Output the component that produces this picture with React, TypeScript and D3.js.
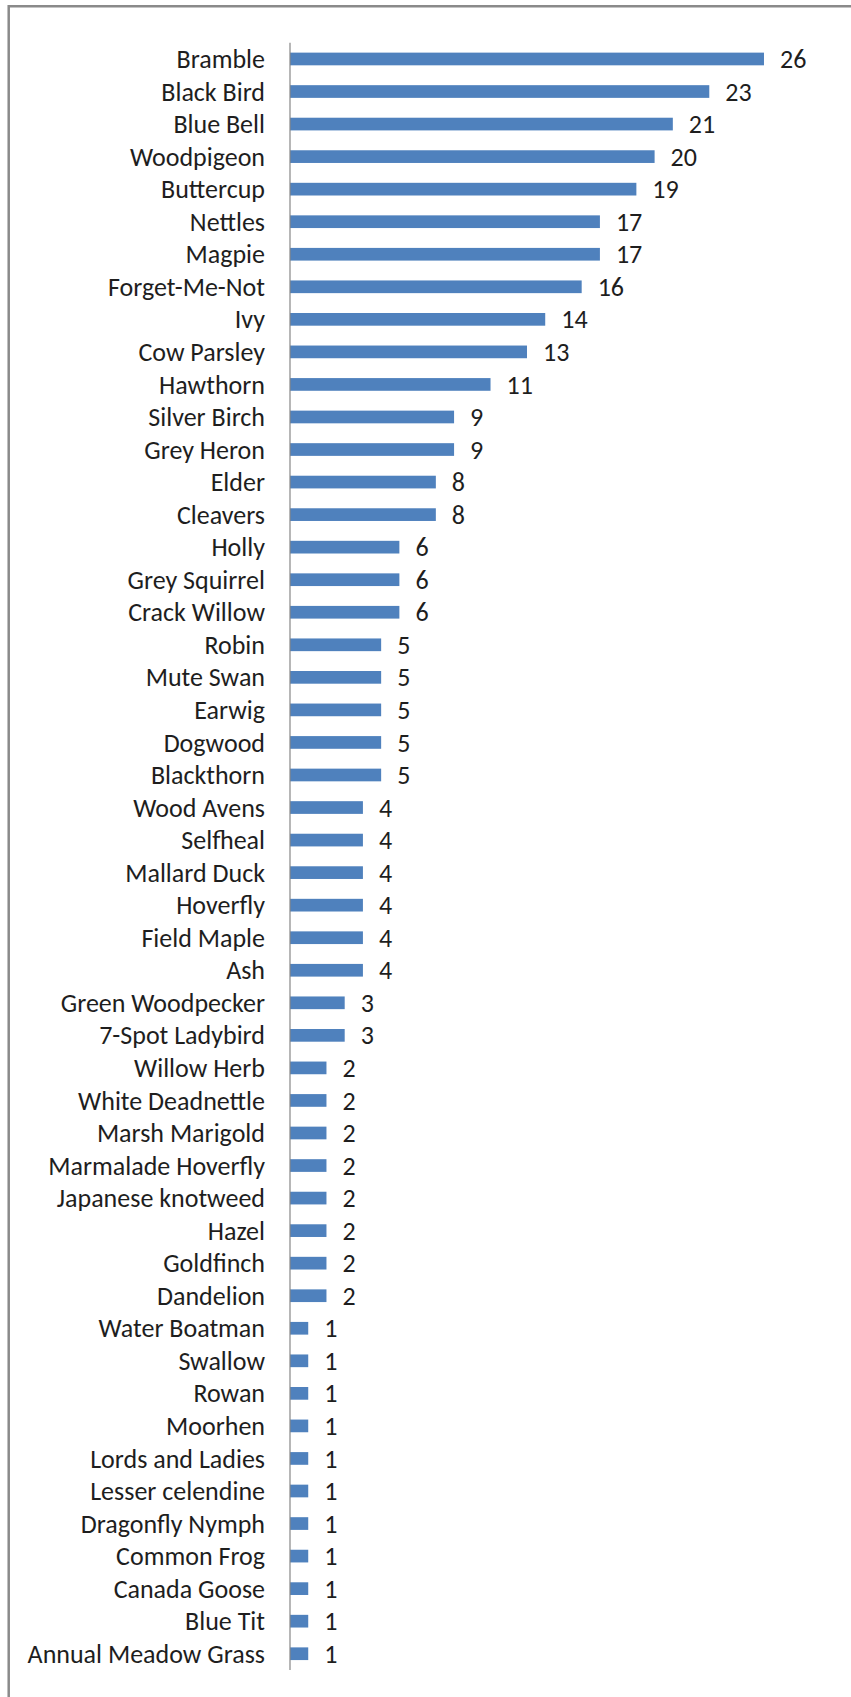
import React from 'react';
import * as d3 from 'd3';

// Species recorded, in chart order (top to bottom)
const species: string[] = [
  'Bramble', 'Black Bird', 'Blue Bell', 'Woodpigeon', 'Buttercup', 'Nettles', 'Magpie',
  'Forget-Me-Not', 'Ivy', 'Cow Parsley', 'Hawthorn', 'Silver Birch', 'Grey Heron', 'Elder',
  'Cleavers', 'Holly', 'Grey Squirrel', 'Crack Willow', 'Robin', 'Mute Swan', 'Earwig',
  'Dogwood', 'Blackthorn', 'Wood Avens', 'Selfheal', 'Mallard Duck', 'Hoverfly',
  'Field Maple', 'Ash', 'Green Woodpecker', '7-Spot Ladybird', 'Willow Herb',
  'White Deadnettle', 'Marsh Marigold', 'Marmalade Hoverfly', 'Japanese knotweed', 'Hazel',
  'Goldfinch', 'Dandelion', 'Water Boatman', 'Swallow', 'Rowan', 'Moorhen',
  'Lords and Ladies', 'Lesser celendine', 'Dragonfly Nymph', 'Common Frog', 'Canada Goose',
  'Blue Tit', 'Annual Meadow Grass',
];

const counts: number[] = [
  26, 23, 21, 20, 19, 17, 17, 16, 14, 13, 11, 9, 9, 8, 8, 6, 6, 6, 5, 5, 5, 5, 5,
  4, 4, 4, 4, 4, 4, 3, 3, 2, 2, 2, 2, 2, 2, 2, 2, 1, 1, 1, 1, 1, 1, 1, 1, 1, 1, 1,
];

const xDomainMax = 30;

const App: React.FC = () => {
  const width = 851;
  const height = 1697;

  // Plot area
  const axisX = 290;
  const plotTop = 42.7;
  const plotBottom = 1670;

  const barColor = '#4f81bd';
  const textColor = '#1e1e1e';
  const font = "Carlito, Calibri, 'Liberation Sans', Arial, sans-serif";
  const fontSize = 26;

  const xScale = d3.scaleLinear().domain([0, xDomainMax]).range([axisX, axisX + 30 * 18.23]);

  const yScale = d3
    .scaleBand<string>()
    .domain(species)
    .range([plotTop, plotBottom])
    .paddingInner(0.61)
    .paddingOuter(0.305);

  const rows = species.map((name, i) => ({ name, value: counts[i] }));

  return (
    <svg
      width={width}
      height={height}
      style={{ position: 'absolute', left: 0, top: 0, background: '#fff' }}
    >
      {/* chart frame (only top and left edges are visible) */}
      <line x1={8.7} x2={width} y1={6.2} y2={6.2} stroke="#8a8a8a" strokeWidth={2.5} />
      <line x1={8.7} x2={8.7} y1={5} y2={height} stroke="#8a8a8a" strokeWidth={2.5} />

      {rows.map(d => {
        const y = yScale(d.name) || 0;
        const cy = y + yScale.bandwidth() / 2;
        return (
          <g key={d.name}>
            <rect
              x={xScale(0)}
              y={y}
              width={xScale(d.value) - xScale(0)}
              height={yScale.bandwidth()}
              fill={barColor}
            />
            <text
              x={axisX - 25}
              y={cy}
              dy="0.35em"
              textAnchor="end"
              fontFamily={font}
              fontSize={fontSize}
              fill={textColor}
            >
              {d.name}
            </text>
            <text
              x={xScale(d.value) + 16}
              y={cy}
              dy="0.35em"
              fontFamily={font}
              fontSize={fontSize}
              fill={textColor}
            >
              {d.value}
            </text>
          </g>
        );
      })}

      {/* category axis */}
      <line
        x1={axisX}
        x2={axisX}
        y1={plotTop}
        y2={plotBottom}
        stroke="#868686"
        strokeWidth={1.2}
      />
    </svg>
  );
};

export default App;
